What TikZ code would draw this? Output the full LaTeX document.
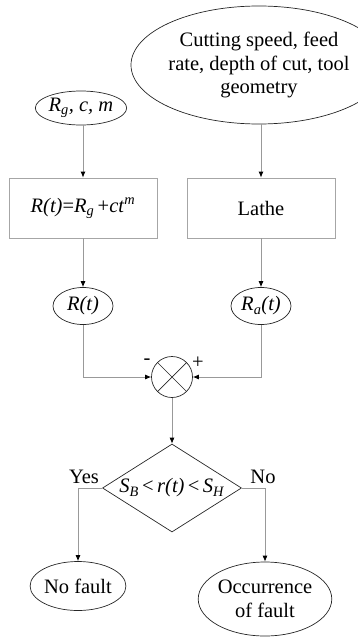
\documentclass[tikz,border=0pt]{standalone}
\usepackage{fontspec}
\setmainfont{Liberation Serif}
\usetikzlibrary{shapes.geometric,arrows.meta}
\begin{document}
\begin{tikzpicture}[x=1pt,y=-1pt,
  font=\fontsize{20.5}{23.5}\selectfont,
  ell/.style={draw=black!85,line width=0.7pt,ellipse,inner sep=0pt,align=center},
  boxx/.style={draw=black!35,line width=0.8pt,rectangle,minimum width=148pt,minimum height=60pt,inner sep=0pt},
  conn/.style={draw=black!40,line width=0.8pt,-{Latex[length=6pt,width=5pt,color=black]}}]
\useasboundingbox (0,0) rectangle (358,637);
\node[ell,minimum width=192pt,minimum height=118pt] (cut) at (259,65) {Cutting speed, feed\\rate, depth of cut, tool\\geometry};
\node[ell,minimum width=70pt,minimum height=34pt] (par) at (81,108) {\textit{R}\textsubscript{\textit{g}}\textit{, c, m}};
\node[boxx] (model) at (83,208) {\textit{R(t)}=\textit{R}\textsubscript{\textit{g}}\,+\textit{ct}\textsuperscript{\textit{m}}};
\node[boxx] (lathe) at (261,208) {Lathe};
\node[ell,minimum width=60pt,minimum height=37pt] (rt) at (83,306) {\textit{R(t)}};
\node[ell,minimum width=60pt,minimum height=37pt] (ra) at (261,306) {\textit{R}\textsubscript{\textit{a}}\textit{(t)}};
\node[draw=black!85,line width=0.7pt,circle,minimum size=41pt,inner sep=0pt] (sum) at (172,377) {};
\draw[black!85,line width=0.7pt] (sum.45) -- (sum.225) (sum.135) -- (sum.315);
\node[draw=black!85,line width=0.7pt,diamond,minimum width=139pt,minimum height=88pt,inner sep=0pt,aspect=1.58] (dec) at (172,488) {\textit{S}\textsubscript{\textit{B}}\,<\,\textit{r(t)}\,<\,\textit{S}\textsubscript{\textit{H}}};
\node[ell,minimum width=89pt,minimum height=49pt] (nof) at (78,586) {No fault};
\node[ell,minimum width=122pt,minimum height=74pt] (occ) at (265,599) {Occurrence\\of fault};
\coordinate (cutb) at (cut.south -| lathe);
\coordinate (parb) at (par.south -| model);
\draw[conn] (parb) -- (model);
\draw[conn] (cutb) -- (lathe);
\draw[conn] (model) -- (rt);
\draw[conn] (lathe) -- (ra);
\draw[conn] (rt.south) |- (sum.west);
\draw[conn] (ra.south) |- (sum.east);
\node at (147,362) {-};
\node at (198,363) {+};
\draw[conn] (sum) -- (dec);
\draw[conn] (dec.west) -| (nof.north);
\draw[conn] (dec.east) -| (occ.north);
\node at (84,477) {Yes};
\node at (263,477) {No};
\end{tikzpicture}
\end{document}
